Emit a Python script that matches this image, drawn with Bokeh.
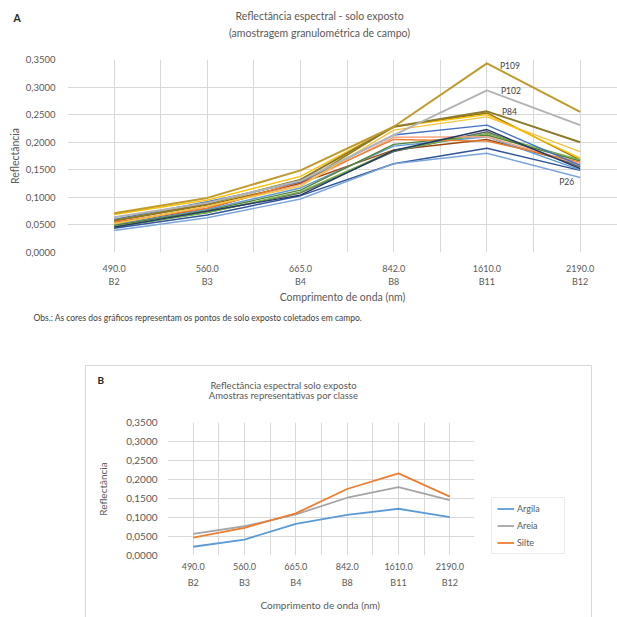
from bokeh.plotting import figure
from bokeh.models import (Label, FixedTicker, LinearAxis, Legend, LegendItem, Range1d,
                          Grid, CustomJSTickFormatter, Spacer)
from bokeh.layouts import column, row
from bokeh.embed import file_html
from bokeh.resources import INLINE

# ---------------- data ----------------
wavelengths = ["490.0", "560.0", "665.0", "842.0", "1610.0", "2190.0"]
bands = ["B2", "B3", "B4", "B8", "B11", "B12"]

# Chart A: field points (reflectance per band)
p_names = ["s17", "s16", "s15", "s13", "s12", "s11", "s10", "s9", "s8", "s7",
           "s6", "s5", "s4", "P26", "P84", "P102", "P109"]
p_colors = ["#997300", "#9E480E", "#636363", "#2F5597", "#5B9BD5", "#548235",
            "#70AD47", "#F4A582", "#ED7D31", "#203864", "#4472C4", "#F5C342",
            "#FFC000", "#7AA6DB", "#8C7B2A", "#B3B3B3", "#BF9A2C"]
s17 = [0.057, 0.086, 0.125, 0.228, 0.253, 0.168]
s16 = [0.050, 0.080, 0.126, 0.186, 0.205, 0.160]
s15 = [0.046, 0.073, 0.108, 0.183, 0.219, 0.155]
s13 = [0.044, 0.068, 0.103, 0.161, 0.189, 0.149]
s12 = [0.050, 0.078, 0.117, 0.193, 0.210, 0.150]
s11 = [0.049, 0.076, 0.113, 0.196, 0.213, 0.166]
s10 = [0.047, 0.072, 0.110, 0.185, 0.216, 0.168]
s9 = [0.053, 0.083, 0.123, 0.209, 0.210, 0.160]
s8 = [0.055, 0.080, 0.128, 0.205, 0.202, 0.164]
s7 = [0.046, 0.075, 0.104, 0.185, 0.223, 0.152]
s6 = [0.060, 0.092, 0.128, 0.213, 0.231, 0.158]
s5 = [0.052, 0.084, 0.120, 0.222, 0.246, 0.183]
s4 = [0.069, 0.095, 0.138, 0.228, 0.250, 0.171]
P26 = [0.040, 0.063, 0.097, 0.161, 0.180, 0.136]
P84 = [0.058, 0.088, 0.132, 0.228, 0.256, 0.200]
P102 = [0.064, 0.090, 0.130, 0.213, 0.294, 0.231]
P109 = [0.071, 0.099, 0.149, 0.228, 0.343, 0.255]
p_values = [s17, s16, s15, s13, s12, s11, s10, s9, s8, s7, s6, s5, s4, P26, P84, P102, P109]

# Chart B: representative samples per class
classes = ["Argila", "Areia", "Silte"]
class_colors = ["#5B9BD5", "#A5A5A5", "#ED7D31"]
argila = [0.023, 0.042, 0.083, 0.107, 0.123, 0.101]
areia = [0.057, 0.077, 0.108, 0.152, 0.180, 0.146]
silte = [0.047, 0.073, 0.111, 0.175, 0.216, 0.155]
class_values = [argila, areia, silte]

y_ticks = [0.0, 0.05, 0.1, 0.15, 0.2, 0.25, 0.3, 0.35]

title_a = ["Reflectância espectral - solo exposto", "(amostragem granulométrica de campo)"]
title_b = ["Reflectância espectral solo exposto", "Amostras representativas por classe"]
note_a = "Obs.: As cores dos gráficos representam os pontos de solo exposto coletados em campo."

# ---------------- style ----------------
FONT = "Lato"
TXT = "#595959"
GRID = "#D9D9D9"
BOX = "1px solid #D9D9D9"
xs = list(range(len(wavelengths)))
half_ticks = [i * 0.5 - 0.5 for i in range(14)]
yfmt = "return tick.toFixed(4).replace('.', ',');"


def style_axis(ax, size):
    ax.axis_line_color = None
    ax.major_tick_line_color = None
    ax.minor_tick_line_color = None
    ax.major_tick_out = 0
    ax.major_tick_in = 0
    ax.minor_tick_out = 0
    ax.major_label_text_font = FONT
    ax.major_label_text_font_size = size
    ax.major_label_text_color = TXT
    ax.axis_label_text_font = FONT
    ax.axis_label_text_font_style = "normal"
    ax.axis_label_text_color = TXT


def build_axes(p, ylab_size, xlab_size, title_size, y_standoff, y_label_standoff,
               x1_standoff, x2_standoff, x_label_standoff, x_title):
    for dim, ticks in ((0, half_ticks), (1, y_ticks)):
        g = Grid(dimension=dim, ticker=FixedTicker(ticks=ticks))
        g.grid_line_color = GRID
        g.grid_line_width = 1
        p.add_layout(g)
    ya = LinearAxis(ticker=FixedTicker(ticks=y_ticks),
                    formatter=CustomJSTickFormatter(code=yfmt),
                    axis_label="Reflectância")
    style_axis(ya, ylab_size)
    ya.major_label_standoff = y_standoff
    ya.axis_label_standoff = y_label_standoff
    ya.axis_label_text_font_size = title_size
    p.add_layout(ya, "left")
    xa1 = LinearAxis(ticker=FixedTicker(ticks=xs),
                     major_label_overrides={i: w for i, w in enumerate(wavelengths)})
    style_axis(xa1, xlab_size)
    xa1.major_label_standoff = x1_standoff
    p.add_layout(xa1, "below")
    xa2 = LinearAxis(ticker=FixedTicker(ticks=xs),
                     major_label_overrides={i: b for i, b in enumerate(bands)},
                     axis_label=x_title)
    style_axis(xa2, xlab_size)
    xa2.major_label_standoff = x2_standoff
    xa2.axis_label_standoff = x_label_standoff
    xa2.axis_label_text_font_size = title_size
    p.add_layout(xa2, "below")


def text_fig(w, h, styles=None, top=0, bottom=0):
    kw = {} if styles is None else {"styles": styles}
    f = figure(width=w, height=h, x_range=Range1d(0, w), y_range=Range1d(h - top - bottom, 0),
               output_backend="svg", toolbar_location=None,
               x_axis_type=None, y_axis_type=None,
               min_border_left=0, min_border_right=0, min_border_top=top,
               min_border_bottom=bottom, **kw)
    f.outline_line_color = None
    return f


def put(f, x, y, text, size, color=TXT, align="left", style="normal"):
    f.add_layout(Label(x=x, y=y, text=text, text_font=FONT, text_font_size=size,
                       text_color=color, text_align=align, text_baseline="middle",
                       text_font_style=style))


# ---------------- chart A ----------------
hdr_a = text_fig(617, 51)
put(hdr_a, 13, 17, "A", "10.5px", color="#262626", style="bold")
put(hdr_a, 319, 15, title_a[0], "10.5px", align="center")
put(hdr_a, 319, 32, title_a[1], "10.5px", align="center")

top = figure(width=616, height=254, x_range=Range1d(-0.5, 5.401),
             y_range=Range1d(0, 0.35), output_backend="svg", toolbar_location=None,
             x_axis_type=None, y_axis_type=None,
             min_border_left=66, min_border_right=0, min_border_top=8,
             min_border_bottom=50)
top.outline_line_color = None
build_axes(top, "9.5px", "9px", "10.5px", 12, 2, 12, 1, 1, "Comprimento de onda (nm)")

for name, col, vals in zip(p_names, p_colors, p_values):
    lw = 2.0 if name in ("P109", "P102", "P84") else 1.4
    top.line(xs, vals, line_color=col, line_width=lw)

for name, vals, idx, dx, dy, al in (("P109", P109, 4, 13, -3, "left"),
                                     ("P102", P102, 4, 14, -1, "left"),
                                     ("P84", P84, 4, 15, -1, "left"),
                                     ("P26", P26, 5, -6, -4, "right")):
    top.add_layout(Label(x=idx, y=vals[idx], x_offset=dx, y_offset=dy, text=name,
                         text_font=FONT, text_font_size="8.5px", text_color="#404040",
                         text_align=al, text_baseline="middle"))

note = text_fig(617, 60)
put(note, 33, 12, note_a, "8.5px", color="#404040")

# ---------------- chart B ----------------
hdr_b = text_fig(507, 48, styles={"border-top": BOX, "border-left": BOX,
                                  "border-right": BOX})
put(hdr_b, 11, 13.5, "B", "10px", color="#262626", style="bold")
put(hdr_b, 197, 19, title_b[0], "9.5px", align="center")
put(hdr_b, 197, 29, title_b[1], "9.5px", align="center")

bot = figure(width=389, height=204, x_range=Range1d(-0.5, 5.5),
             y_range=Range1d(0, 0.35), output_backend="svg", toolbar_location=None,
             x_axis_type=None, y_axis_type=None,
             min_border_left=81, min_border_right=0, min_border_top=9,
             min_border_bottom=62, styles={"border-left": BOX})
bot.outline_line_color = None
build_axes(bot, "10px", "9px", "10px", 10, 14, 7, 4, 8, "Comprimento  de onda (nm)")

for name, col, vals in zip(classes, class_colors, class_values):
    bot.line(xs, vals, line_color=col, line_width=1.8)

# legend panel to the right of chart B (same vertical borders as chart B);
# single-point lines only carry the legend styling and draw nothing themselves
leg_fig = text_fig(118, 204, styles={"border-right": BOX}, top=9, bottom=62)
items = []
for name, col, vals in zip(classes, class_colors, class_values):
    r = leg_fig.line(x=xs[:1], y=vals[:1], line_color=col, line_width=1.8)
    items.append(LegendItem(label=name, renderers=[r]))
leg = Legend(items=items, location=(17, 1))
leg.border_line_color = GRID
leg.label_text_font = FONT
leg.label_text_font_size = "9px"
leg.label_text_color = TXT
leg.glyph_width = 17
leg.glyph_height = 11
leg.label_height = 11
leg.label_width = 42
leg.label_standoff = 3
leg.spacing = 6
leg.padding = 5
leg.margin = 0
leg_fig.add_layout(leg)

layout = column(hdr_a,
                row(Spacer(width=1, height=254), top),
                note,
                row(Spacer(width=85, height=48), hdr_b),
                row(Spacer(width=85, height=204), bot, leg_fig))
open("out.html", "w").write(file_html(layout, INLINE))
